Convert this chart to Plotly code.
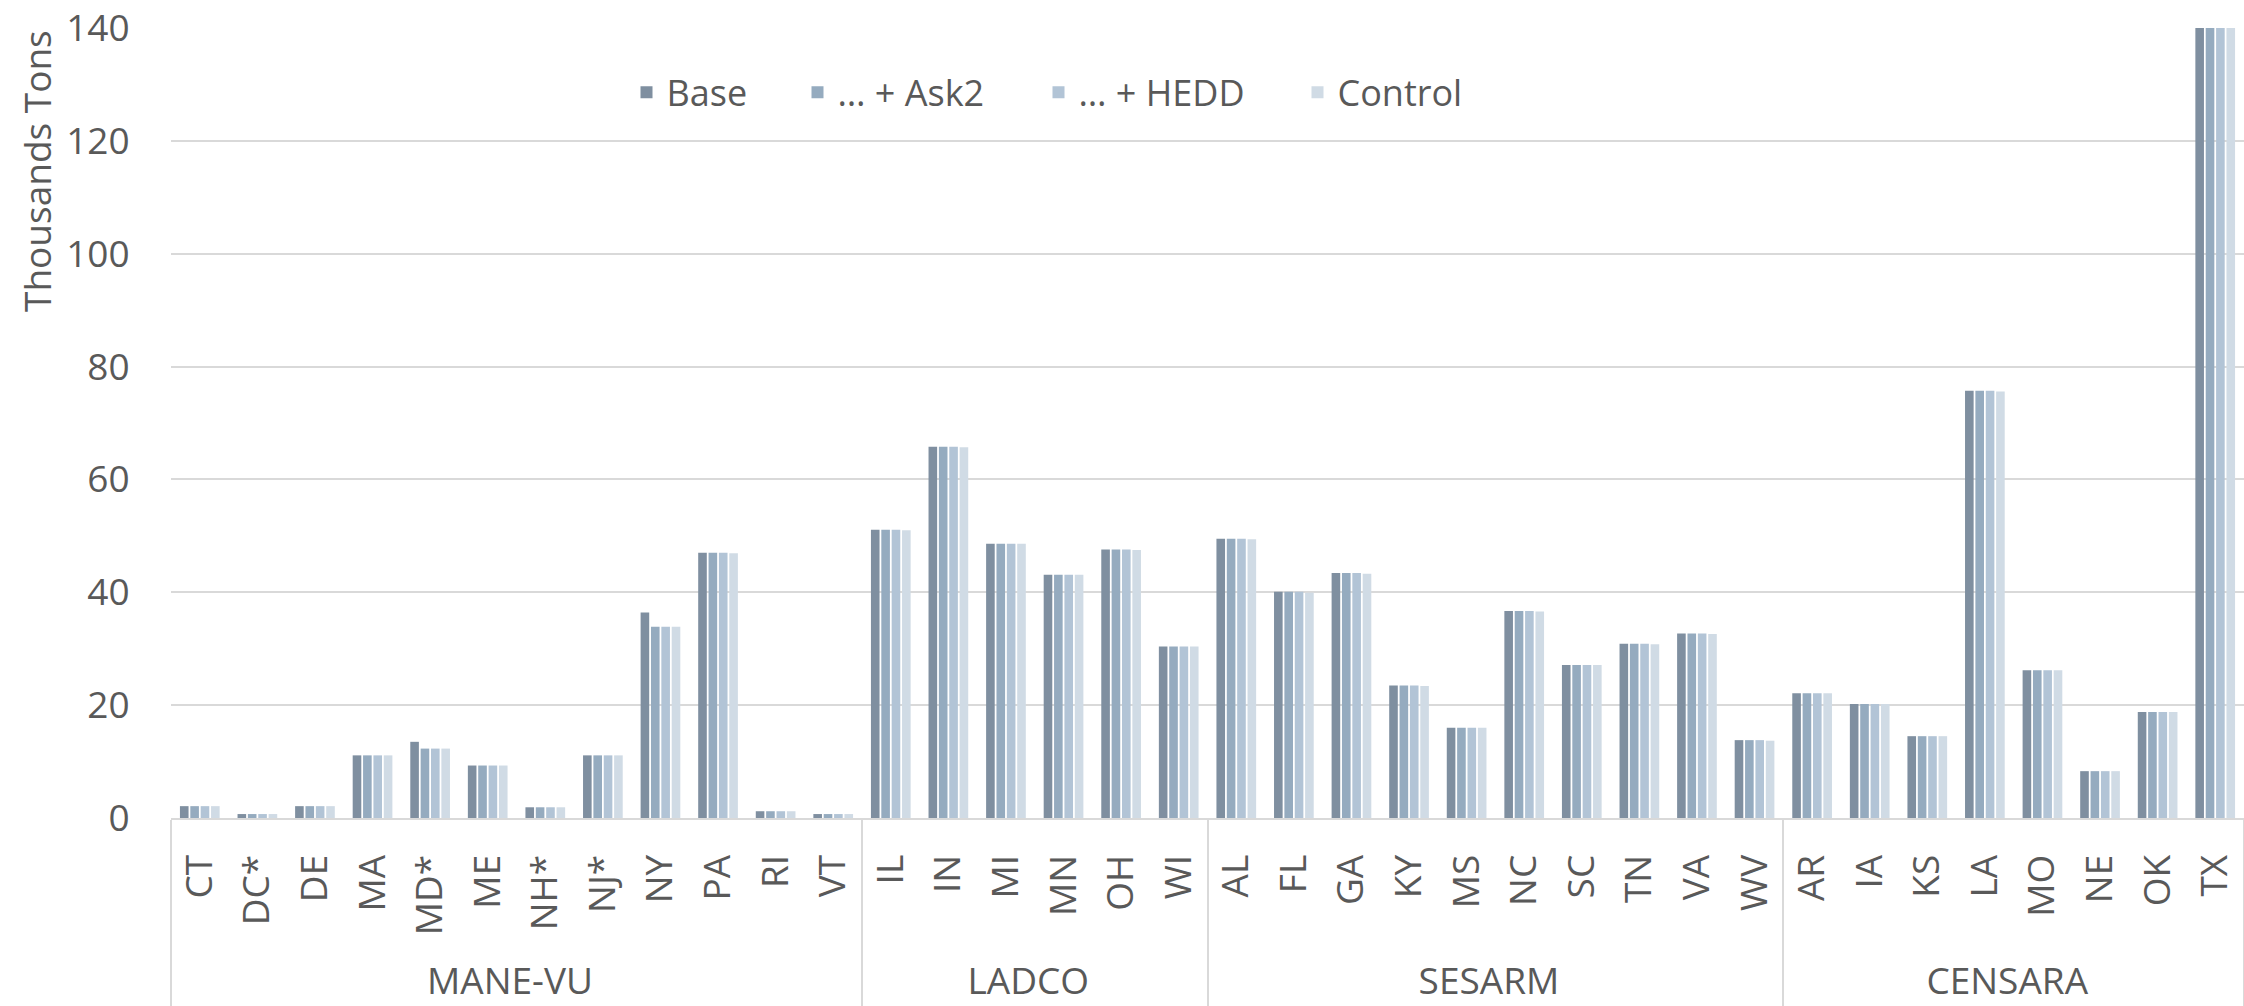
import plotly.graph_objects as go

# ---- data ----
groups = ["MANE-VU"] * 12 + ["LADCO"] * 6 + ["SESARM"] * 10 + ["CENSARA"] * 8
states = ["CT", "DC*", "DE", "MA", "MD*", "ME", "NH*", "NJ*", "NY", "PA", "RI", "VT",
          "IL", "IN", "MI", "MN", "OH", "WI",
          "AL", "FL", "GA", "KY", "MS", "NC", "SC", "TN", "VA", "WV",
          "AR", "IA", "KS", "LA", "MO", "NE", "OK", "TX"]

base = [2.1, 0.7, 2.1, 11.1, 13.5, 9.3, 1.9, 11.1, 36.4, 47.0, 1.2, 0.7,
        51.1, 65.8, 48.6, 43.1, 47.6, 30.4,
        49.5, 40.1, 43.4, 23.5, 16.0, 36.7, 27.1, 30.9, 32.7, 13.8,
        22.1, 20.2, 14.5, 75.7, 26.2, 8.3, 18.8, 140.0]
ask2 = [2.1, 0.7, 2.1, 11.1, 12.3, 9.3, 1.9, 11.1, 33.9, 47.0, 1.2, 0.7,
        51.1, 65.8, 48.6, 43.1, 47.6, 30.4,
        49.5, 40.1, 43.4, 23.5, 16.0, 36.7, 27.1, 30.9, 32.7, 13.8,
        22.1, 20.2, 14.5, 75.7, 26.2, 8.3, 18.8, 140.0]
hedd = [2.1, 0.7, 2.1, 11.1, 12.3, 9.3, 1.9, 11.1, 33.9, 47.0, 1.2, 0.7,
        51.1, 65.8, 48.6, 43.1, 47.6, 30.4,
        49.5, 40.1, 43.4, 23.5, 16.0, 36.7, 27.1, 30.9, 32.7, 13.8,
        22.1, 20.2, 14.5, 75.7, 26.2, 8.3, 18.8, 140.0]
control = [2.1, 0.7, 2.1, 11.1, 12.3, 9.3, 1.9, 11.1, 33.9, 46.9, 1.2, 0.7,
           51.0, 65.7, 48.6, 43.1, 47.5, 30.4,
           49.4, 39.9, 43.3, 23.4, 16.0, 36.6, 27.1, 30.8, 32.6, 13.7,
           22.1, 20.2, 14.5, 75.6, 26.2, 8.3, 18.8, 140.0]

series_names = ["Base", "… + Ask2", "… + HEDD", "Control"]
series_values = [base, ask2, hedd, control]
series_colors = ["#7f8fa0", "#95abbf", "#b2c4d6", "#d0dbe5"]
legend_widths = [126, 196, 214, 140]   # px reserved per legend entry

y_ticks = [0, 20, 40, 60, 80, 100, 120, 140]

TEXT = "#595959"
GRID = "#d9d9d9"
FONT = "Open Sans"

# state labels padded with a no-break space on the far (lower) end so the
# second label row sits lower, as in the reference
state_labels = ["\u00a0" + s for s in states]

fig = go.Figure()
for name, vals, col, lw in zip(series_names, series_values, series_colors, legend_widths):
    fig.add_trace(go.Bar(x=[groups, state_labels], y=vals, name=name, legendwidth=lw,
                         marker=dict(color=col, line=dict(width=0))))

W, H = 2244, 1006
ml, mr, mt, mb = 171, 0, 28, 188

fig.update_layout(
    width=W, height=H,
    margin=dict(l=ml, r=mr, t=mt, b=mb, pad=0),
    paper_bgcolor="white", plot_bgcolor="white",
    barmode="group", bargap=0.28, bargroupgap=0.17,
    font=dict(family=FONT, color=TEXT, size=36),
    showlegend=True,
    legend=dict(orientation="h", x=(626.5 - ml) / (W - ml - mr), xanchor="left",
                y=0.9185, yanchor="middle",
                font=dict(family=FONT, size=36, color=TEXT),
                bgcolor="rgba(0,0,0,0)", itemclick=False, traceorder="normal"),
    xaxis=dict(type="multicategory", tickangle=-90, automargin=False,
               tickfont=dict(family=FONT, size=37, color=TEXT),
               showline=True, linecolor=GRID, linewidth=2,
               showdividers=True, dividercolor=GRID, dividerwidth=2,
               ticks="", showgrid=False, ticklabelstandoff=20),
    yaxis=dict(range=[0, 140], tickvals=y_ticks, ticktext=[str(v) for v in y_ticks],
               automargin=False,
               showgrid=True, gridcolor=GRID, gridwidth=2, zeroline=False,
               showline=False, ticks="outside", ticklen=4, tickcolor="rgba(0,0,0,0)",
               tickfont=dict(family=FONT, size=37, color=TEXT),
               ticklabelstandoff=29),
    annotations=[dict(text="Thousands Tons", textangle=-90, xref="paper", yref="paper",
                      x=(36 - ml) / (W - ml - mr), xanchor="center",
                      y=1.0, yanchor="top", showarrow=False,
                      font=dict(family=FONT, size=37, color=TEXT))],
)

fig.write_html("out.html", config={"displayModeBar": False},
               post_script="document.body.style.margin='0';")
